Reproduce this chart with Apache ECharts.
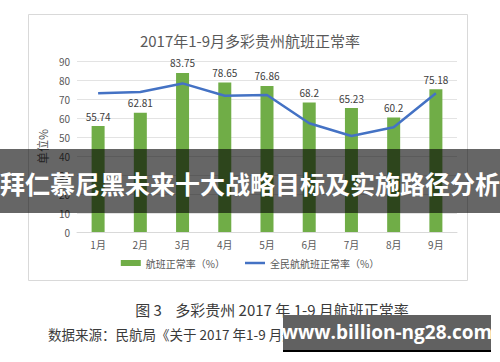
<!DOCTYPE html>
<html><head><meta charset="utf-8">
<script src="https://cdn.jsdelivr.net/npm/echarts@6/dist/echarts.min.js"></script>
<style>html,body{margin:0;padding:0;background:#fff}#c{width:500px;height:362px}</style>
</head><body><div id="c"></div>
<script>
var categories = ['1月','2月','3月','4月','5月','6月','7月','8月','9月'];
var guizhouRate = [55.74, 62.81, 83.75, 78.65, 76.86, 68.2, 65.23, 60.2, 75.18];
var nationalRate = [73, 73.7, 78.2, 71.7, 72.1, 57.2, 50.5, 55.1, 73];
var yTicks = [0, 10, 20, 30, 40, 50, 60, 70, 80, 90];
var titleText = '2017年1-9月多彩贵州航班正常率';
var seriesNames = ['航班正常率（%）', '全民航航班正常率（%）'];
var yName = '单位%';
var captionText = '图 3    多彩贵州 2017 年 1-9 月航班正常率';
var sourceText = '数据来源：民航局《关于 2017 年1-9 月航班正常情况》';
var bannerText = '拜仁慕尼黑未来十大战略目标及实施路径分析';
var watermarkText = 'www.billion-ng28.com';

var CJK = '"Noto Sans CJK SC", "Microsoft YaHei", sans-serif';
var chart = echarts.init(document.getElementById('c'), null, {renderer: 'svg'});
chart.setOption({
  backgroundColor: '#fff',
  animation: false,
  textStyle: {fontFamily: CJK},
  title: {
    text: titleText, left: 'center', top: 28,
    textStyle: {fontSize: 15, fontWeight: 'normal', color: '#595959', fontFamily: CJK}
  },
  legend: {
    bottom: 89, left: 'center', itemWidth: 20, itemHeight: 6, itemGap: 20,
    textStyle: {fontSize: 10, color: '#595959', fontFamily: CJK},
    data: [{name: seriesNames[0], icon: 'rect'},
           {name: seriesNames[1], icon: 'path://M0,0L40,0L40,5L0,5Z'}]
  },
  grid: {left: 77, right: 43, top: 61, bottom: 130, containLabel: false},
  xAxis: {
    type: 'category', data: categories,
    axisLine: {lineStyle: {color: '#d9d9d9'}},
    axisTick: {show: false},
    axisLabel: {color: '#595959', fontSize: 10, margin: 7}
  },
  yAxis: {
    type: 'value', min: yTicks[0], max: yTicks[yTicks.length - 1], interval: 10,
    name: yName, nameLocation: 'middle', nameGap: 24, nameRotate: 90,
    nameTextStyle: {fontSize: 12, color: '#595959', fontFamily: CJK},
    axisLine: {show: false}, axisTick: {show: false},
    axisLabel: {color: '#595959', fontSize: 10, margin: 7},
    splitLine: {lineStyle: {color: '#e3e3e3'}}
  },
  series: [
    {
      name: seriesNames[0], type: 'bar', data: guizhouRate, barWidth: 13,
      itemStyle: {color: '#70ad47'},
      label: {show: true, position: 'top', distance: 5, color: '#404040', fontSize: 10}
    },
    {
      name: seriesNames[1], type: 'line', data: nationalRate, symbol: 'none',
      lineStyle: {color: '#4472c4', width: 2.5}, itemStyle: {color: '#4472c4'}, z: 3
    }
  ],
  graphic: [
    {type: 'rect', z: -10, shape: {x: 28.5, y: 14.5, width: 439, height: 266},
     style: {fill: '#fff', stroke: '#d9d9d9', lineWidth: 1}},
    {type: 'text', z: 10, style: {text: captionText, x: 272, y: 309, align: 'center', verticalAlign: 'middle', textAlign: 'center', textVerticalAlign: 'middle',
      font: '15px "Noto Sans CJK SC", sans-serif', fill: '#3a3a3a'}},
    {type: 'text', z: 10, style: {text: sourceText, x: 48, y: 334, align: 'left', verticalAlign: 'middle', textAlign: 'left', textVerticalAlign: 'middle',
      font: '13.5px "Noto Sans CJK SC", sans-serif', fill: '#3a3a3a'}},
    {type: 'rect', z: 100, shape: {x: 0, y: 149, width: 500, height: 64},
     style: {fill: 'rgba(0,0,0,0.6)'}},
    {type: 'text', z: 101, style: {text: bannerText, x: 250, y: 183, align: 'center', verticalAlign: 'middle', textAlign: 'center', textVerticalAlign: 'middle',
      font: 'bold 25px "Noto Sans CJK SC", sans-serif', fill: '#fff'}},
    {type: 'rect', z: 100, shape: {x: 283, y: 350, width: 208, height: 2}, style: {fill: '#000'}},
    {type: 'rect', z: 100, shape: {x: 283, y: 315, width: 208, height: 35}, style: {fill: '#616161'}},
    {type: 'text', z: 101, style: {text: watermarkText, x: 387, y: 332, align: 'center', verticalAlign: 'middle', textAlign: 'center', textVerticalAlign: 'middle',
      font: 'bold 19px "Open Sans", "DejaVu Sans", sans-serif', fill: '#fff'}}
  ]
});
</script></body></html>
